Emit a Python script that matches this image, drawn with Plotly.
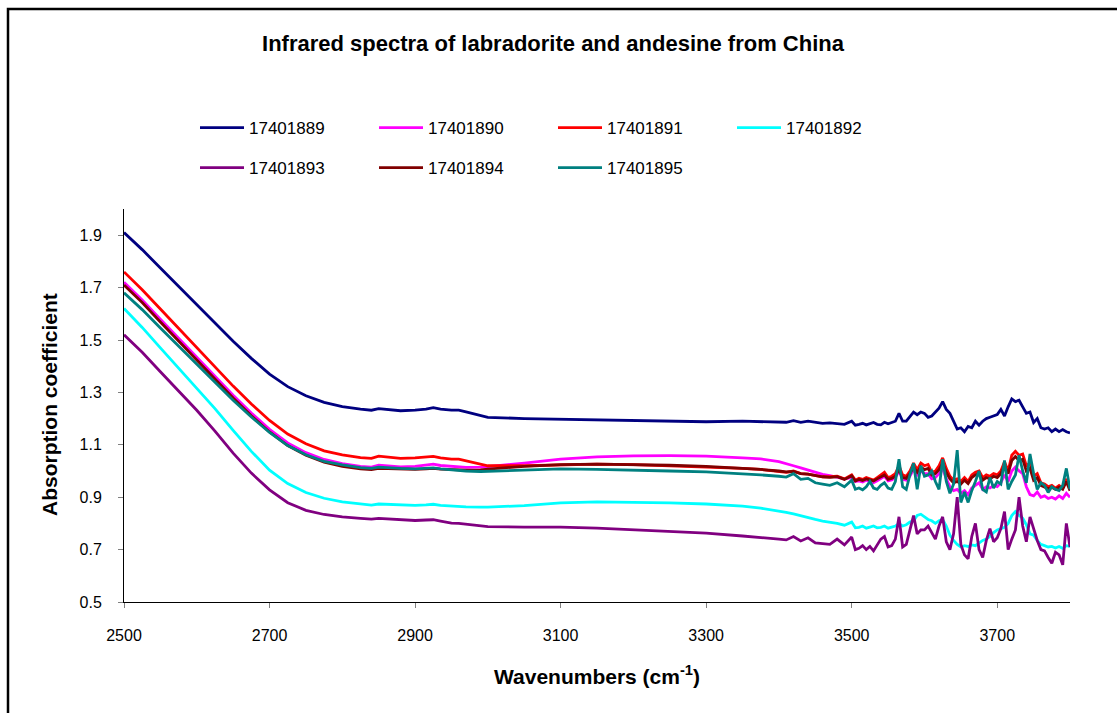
import plotly.graph_objects as go

# ---------------- data ----------------
wn_smooth = [2500, 2525, 2550, 2575, 2600, 2625, 2650, 2675, 2700, 2725,
             2750, 2775, 2800, 2825, 2840, 2850, 2860, 2880, 2900, 2915,
             2925, 2935, 2950, 2960, 2970, 2990, 3000, 3050, 3100, 3150,
             3200, 3250, 3300, 3350, 3375]
wn_mid = [3400, 3410, 3420, 3430, 3440, 3450, 3460, 3470, 3480, 3490, 3500]
wn_noise = [3505, 3510, 3515, 3520, 3525, 3530, 3535, 3540, 3545, 3550,
            3555, 3560, 3565, 3570, 3575, 3580, 3585, 3590, 3595, 3600,
            3605, 3610, 3615, 3620, 3625, 3630, 3635, 3640, 3645, 3650,
            3655, 3660, 3665, 3670, 3675, 3680, 3685, 3690, 3695, 3700,
            3705, 3710, 3715, 3720, 3725, 3730, 3735, 3740, 3745, 3750,
            3755, 3760, 3765, 3770, 3775, 3780, 3785, 3790, 3795, 3800]
wavenumbers = wn_smooth + wn_mid + wn_noise

s17401889 = [1.91, 1.845, 1.775, 1.705, 1.635, 1.565, 1.495, 1.43, 1.37, 1.322,
             1.287, 1.262, 1.246, 1.236, 1.232, 1.238, 1.236, 1.23, 1.232, 1.236,
             1.242, 1.236, 1.232, 1.232, 1.226, 1.212, 1.205, 1.2, 1.198, 1.195,
             1.192, 1.19, 1.188, 1.19, 1.189] + \
            [1.188, 1.186, 1.192, 1.186, 1.19, 1.185, 1.182, 1.184, 1.18, 1.178, 1.19] + \
            [1.175, 1.178, 1.182, 1.176, 1.18, 1.185, 1.178, 1.176, 1.186, 1.18,
             1.185, 1.19, 1.22, 1.19, 1.19, 1.21, 1.225, 1.215, 1.225, 1.22,
             1.205, 1.21, 1.225, 1.24, 1.265, 1.235, 1.22, 1.19, 1.16, 1.165,
             1.15, 1.17, 1.165, 1.19, 1.175, 1.19, 1.2, 1.205, 1.21, 1.215,
             1.235, 1.21, 1.245, 1.275, 1.265, 1.27, 1.245, 1.22, 1.225, 1.185,
             1.2, 1.165, 1.16, 1.165, 1.15, 1.16, 1.15, 1.158, 1.15, 1.145]

s17401890 = [1.72, 1.653, 1.579, 1.506, 1.434, 1.361, 1.289, 1.221, 1.159, 1.107,
             1.07, 1.044, 1.028, 1.018, 1.015, 1.022, 1.02, 1.016, 1.018, 1.022,
             1.026, 1.021, 1.017, 1.017, 1.014, 1.015, 1.017, 1.03, 1.045, 1.054,
             1.058, 1.059, 1.057, 1.05, 1.046] + \
            [1.036, 1.029, 1.02, 1.012, 1.003, 0.995, 0.987, 0.982, 0.976, 0.97, 0.975] + \
            [0.96, 0.962, 0.958, 0.965, 0.96, 0.955, 0.963, 0.972, 0.98, 0.962,
             0.966, 0.975, 1.0, 0.968, 0.965, 0.98, 1.005, 0.985, 1.0, 0.99,
             0.99, 0.97, 0.975, 0.99, 1.01, 0.97, 0.94, 0.925, 0.93, 0.915,
             0.925, 0.91, 0.935, 0.945, 0.955, 0.93, 0.94, 0.935, 0.945, 0.94,
             0.955, 0.985, 0.96, 1.0, 1.015, 1.0, 0.99, 0.94, 0.91, 0.905,
             0.92, 0.9, 0.905, 0.895, 0.9, 0.893, 0.905, 0.895, 0.915, 0.9]

s17401891 = [1.76, 1.692, 1.618, 1.544, 1.471, 1.398, 1.324, 1.256, 1.193, 1.141,
             1.104, 1.077, 1.062, 1.051, 1.048, 1.057, 1.054, 1.048, 1.05, 1.053,
             1.056, 1.05, 1.045, 1.045, 1.038, 1.025, 1.02, 1.02, 1.024, 1.026,
             1.024, 1.02, 1.016, 1.01, 1.006] + \
            [1.0, 0.995, 1.0, 0.99, 0.988, 0.982, 0.978, 0.978, 0.98, 0.97, 0.985] + \
            [0.965, 0.972, 0.968, 0.975, 0.97, 0.965, 0.975, 0.985, 0.995, 0.975,
             0.98, 0.99, 1.02, 0.985, 0.98, 1.0, 1.03, 1.005, 1.03, 1.02,
             1.025, 0.995, 1.0, 1.02, 1.05, 1.01, 0.98, 0.965, 0.97, 0.96,
             0.975, 0.96, 0.985, 0.995, 1.0, 0.975, 0.985, 0.98, 0.99, 0.985,
             1.0, 1.035, 1.0, 1.06, 1.075, 1.06, 1.065, 1.02, 1.03, 0.98,
             0.99, 0.955, 0.95, 0.94, 0.945, 0.935, 0.945, 0.935, 0.97, 0.93]

s17401892 = [1.62, 1.548, 1.47, 1.393, 1.316, 1.238, 1.155, 1.075, 1.003, 0.952,
             0.918, 0.896, 0.882, 0.873, 0.87, 0.874, 0.873, 0.87, 0.869, 0.871,
             0.873, 0.869, 0.866, 0.865, 0.863, 0.862, 0.862, 0.868, 0.878, 0.882,
             0.881, 0.878, 0.874, 0.866, 0.858] + \
            [0.848, 0.842, 0.836, 0.828, 0.822, 0.815, 0.809, 0.805, 0.8, 0.793, 0.805] + \
            [0.783, 0.785, 0.79, 0.782, 0.786, 0.79, 0.783, 0.785, 0.79, 0.782,
             0.786, 0.79, 0.8, 0.79, 0.795, 0.805, 0.81, 0.83, 0.835, 0.825,
             0.815, 0.81, 0.8, 0.81, 0.815, 0.79, 0.755, 0.735, 0.72, 0.71,
             0.715, 0.712, 0.718, 0.715, 0.725, 0.735, 0.74, 0.75, 0.765, 0.775,
             0.78, 0.785, 0.8, 0.83, 0.845, 0.83, 0.82, 0.795, 0.76, 0.755,
             0.735, 0.72, 0.715, 0.71, 0.712, 0.706, 0.712, 0.705, 0.715, 0.712]

s17401893 = [1.52, 1.453, 1.379, 1.306, 1.232, 1.152, 1.068, 0.992, 0.928, 0.879,
             0.85, 0.834, 0.825, 0.819, 0.816, 0.819, 0.817, 0.813, 0.811, 0.813,
             0.814, 0.809, 0.801, 0.8, 0.797, 0.79, 0.788, 0.786, 0.786, 0.782,
             0.776, 0.77, 0.763, 0.752, 0.747] + \
            [0.74, 0.737, 0.75, 0.733, 0.745, 0.726, 0.724, 0.72, 0.74, 0.718, 0.748] + \
            [0.70, 0.705, 0.715, 0.70, 0.712, 0.695, 0.72, 0.74, 0.75, 0.71,
             0.715, 0.74, 0.825, 0.71, 0.72, 0.78, 0.83, 0.76, 0.775, 0.775,
             0.79, 0.765, 0.74, 0.79, 0.825, 0.73, 0.70, 0.76, 0.9, 0.72,
             0.68, 0.665, 0.75, 0.8, 0.7, 0.67, 0.735, 0.78, 0.73, 0.745,
             0.78, 0.845, 0.70, 0.74, 0.775, 0.9, 0.79, 0.73, 0.825, 0.78,
             0.735, 0.7, 0.695, 0.67, 0.648, 0.69, 0.68, 0.642, 0.8, 0.71]

s17401894 = [1.71, 1.643, 1.569, 1.496, 1.424, 1.351, 1.279, 1.211, 1.149, 1.097,
             1.06, 1.034, 1.018, 1.008, 1.005, 1.01, 1.009, 1.006, 1.006, 1.008,
             1.01, 1.007, 1.005, 1.004, 1.003, 1.004, 1.007, 1.018, 1.024, 1.026,
             1.025, 1.022, 1.018, 1.011, 1.006] + \
            [1.0, 0.997, 0.998, 0.99, 0.988, 0.983, 0.978, 0.976, 0.978, 0.968, 0.982] + \
            [0.962, 0.968, 0.964, 0.97, 0.966, 0.962, 0.97, 0.978, 0.985, 0.968,
             0.972, 0.98, 1.005, 0.975, 0.972, 0.99, 1.015, 0.995, 1.015, 1.005,
             1.01, 0.985, 0.99, 1.005, 1.03, 0.995, 0.97, 0.955, 0.96, 0.95,
             0.965, 0.952, 0.975, 0.985, 0.99, 0.965, 0.975, 0.97, 0.98, 0.975,
             0.99, 1.02, 0.99, 1.04, 1.055, 1.04, 1.045, 1.0, 1.01, 0.965,
             0.975, 0.945, 0.94, 0.932, 0.938, 0.93, 0.938, 0.93, 0.96, 0.925]

s17401895 = [1.68, 1.616, 1.546, 1.477, 1.408, 1.339, 1.27, 1.206, 1.147, 1.097,
             1.062, 1.037, 1.023, 1.013, 1.01, 1.015, 1.013, 1.01, 1.008, 1.01,
             1.012, 1.008, 1.004, 1.002, 1.0, 0.998, 0.999, 1.005, 1.008, 1.006,
             1.004, 1.0, 0.997, 0.99, 0.985] + \
            [0.98, 0.977, 0.99, 0.968, 0.972, 0.955, 0.95, 0.945, 0.955, 0.94, 0.965] + \
            [0.93, 0.935, 0.928, 0.94, 0.96, 0.935, 0.93, 0.945, 0.955, 0.935,
             0.93, 0.96, 1.045, 0.94, 0.93, 0.985, 1.03, 0.93, 1.02, 0.98,
             0.985, 1.0, 0.96, 0.93, 1.045, 0.96, 0.915, 0.95, 1.08, 0.88,
             0.92, 0.88, 0.925, 0.96, 1.0, 0.93, 0.92, 0.975, 0.935, 0.96,
             0.95, 1.04, 0.93, 0.96, 0.985, 1.06, 1.0, 0.955, 1.065, 0.99,
             0.93, 0.955, 0.945, 0.918, 0.94, 0.93, 0.925, 0.945, 1.01, 0.93]

series_names = ["17401889", "17401890", "17401891", "17401892",
                "17401893", "17401894", "17401895"]
series_values = [s17401889, s17401890, s17401891, s17401892,
                 s17401893, s17401894, s17401895]
series_colors = ["#000080", "#FF00FF", "#FF0000", "#00FFFF",
                 "#800080", "#800000", "#008080"]

x_ticks = [2500, 2700, 2900, 3100, 3300, 3500, 3700]
y_ticks = [0.5, 0.7, 0.9, 1.1, 1.3, 1.5, 1.7, 1.9]

for n, v in zip(series_names, series_values):
    if len(v) != len(wavenumbers):
        print("length mismatch", n, len(v), len(wavenumbers))

# ---------------- figure ----------------
FONT = "Liberation Sans, Arial, sans-serif"
W, H = 1117, 713
L, R, T, B = 124, 47, 209, 111
pw, ph = W - L - R, H - T - B

def px(xp):
    return (xp - L) / pw

def py(yp):
    return (H - B - yp) / ph

fig = go.Figure()
for i, (name, vals, col) in enumerate(zip(series_names, series_values, series_colors)):
    fig.add_trace(go.Scatter(
        x=wavenumbers, y=vals, name=name, mode="lines",
        line=dict(color=col, width=2.8),
        legend="legend" if i < 4 else "legend2",
    ))

legend_common = dict(
    orientation="h", xanchor="left", yanchor="middle",
    font=dict(family=FONT, size=17, color="black"),
    bgcolor="rgba(0,0,0,0)", borderwidth=0,
    entrywidth=120, entrywidthmode="pixels",
    itemwidth=44, traceorder="normal",
)

fig.update_layout(
    width=W, height=H,
    margin=dict(l=L, r=R, t=T, b=B),
    paper_bgcolor="white", plot_bgcolor="white",
    font=dict(family=FONT, color="black"),
    title=dict(text="<b>Infrared spectra of labradorite and andesine from China</b>",
               x=553 / W, xref="container", xanchor="center",
               y=1 - 43 / H, yref="container", yanchor="middle",
               font=dict(family=FONT, size=22, color="black")),
    legend=dict(x=px(195), y=py(128), **legend_common),
    legend2=dict(x=px(195), y=py(168), **legend_common),
    xaxis=dict(range=[2500, 3800], tickvals=x_ticks, ticktext=[str(t) for t in x_ticks],
               showgrid=False, zeroline=False, showline=True, linecolor="black", linewidth=1,
               ticks="outside", ticklen=5, tickcolor="#808080", tickwidth=1,
               ticklabelstandoff=14,
               tickfont=dict(family=FONT, size=16, color="black")),
    yaxis=dict(range=[0.5, 2.0], tickvals=y_ticks, ticktext=[f"{t:.1f}" for t in y_ticks],
               showgrid=False, zeroline=False, showline=True, linecolor="black", linewidth=1,
               ticks="outside", ticklen=5, tickcolor="#808080", tickwidth=1,
               ticklabelstandoff=13,
               tickfont=dict(family=FONT, size=16, color="black")),
    annotations=[
        dict(text="<b>Wavenumbers (cm<sup>-1</sup>)</b>", xref="paper", yref="paper",
             x=0.5, y=py(675), xanchor="center", yanchor="middle", showarrow=False,
             font=dict(family=FONT, size=21, color="black")),
        dict(text="<b>Absorption coefficient</b>", xref="paper", yref="paper",
             x=px(49), y=py(405), xanchor="center", yanchor="middle", showarrow=False,
             textangle=-90, font=dict(family=FONT, size=21, color="black")),
    ],
    shapes=[
        dict(type="rect", xref="paper", yref="paper",
             x0=px(8), x1=px(1140), y0=py(740), y1=py(9),
             line=dict(color="black", width=2.5), fillcolor="rgba(0,0,0,0)", layer="below"),
    ],
    showlegend=True,
)

fig.write_html("out.html")
